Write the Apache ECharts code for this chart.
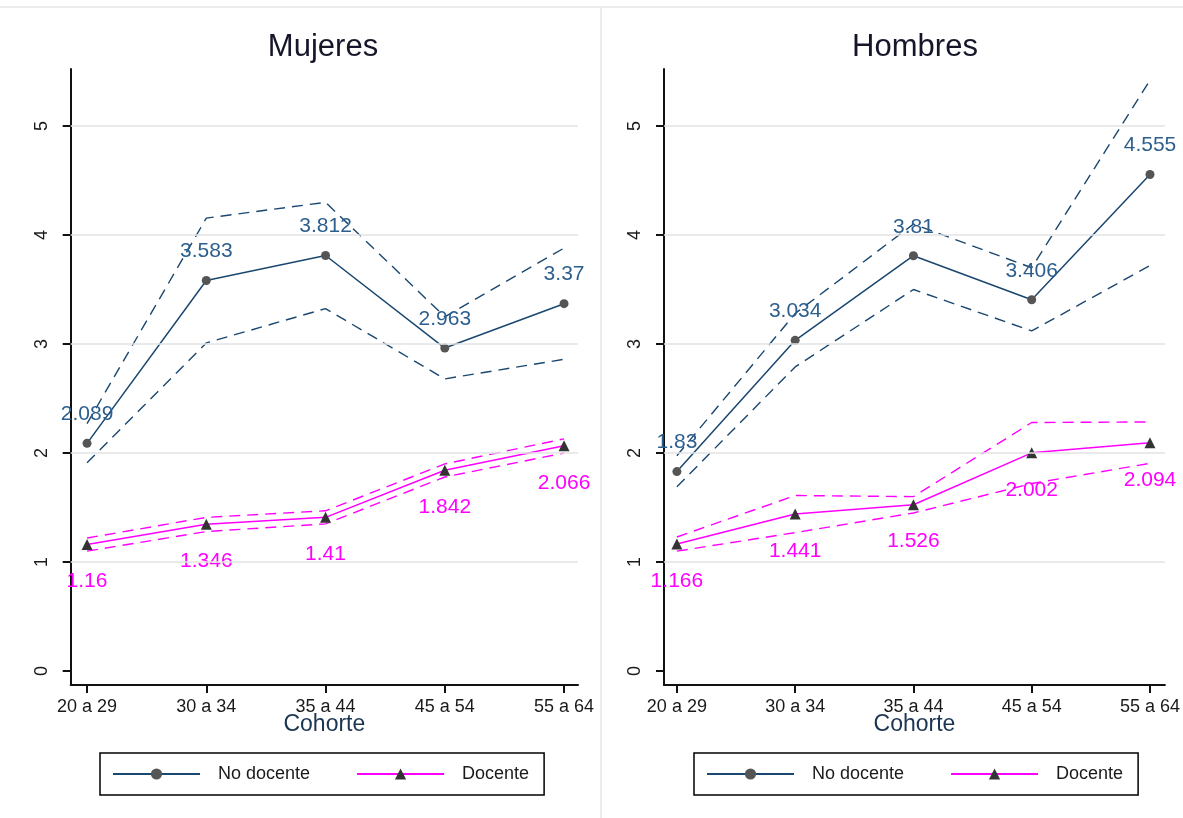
<!DOCTYPE html>
<html>
<head>
<meta charset="utf-8">
<script src="https://cdn.jsdelivr.net/npm/echarts@6/dist/echarts.min.js"></script>
<style>
  html, body { margin: 0; padding: 0; background: #ffffff; }
  #chart { width: 1183px; height: 818px; }
</style>
</head>
<body>
<div id="chart"></div>
<script>
// Cohorts on the horizontal axis
const cohortes = ['20 a 29', '30 a 34', '35 a 44', '45 a 54', '55 a 64'];
const yTicks = [0, 1, 2, 3, 4, 5];

// Mujeres: point estimates and confidence bounds
const mujNoDoc    = [2.089, 3.583, 3.812, 2.963, 3.37];
const mujNoDocSup = [2.27, 4.155, 4.30, 3.25, 3.88];
const mujNoDocInf = [1.91, 3.01, 3.325, 2.68, 2.86];
const mujDoc      = [1.16, 1.346, 1.41, 1.842, 2.066];
const mujDocSup   = [1.22, 1.41, 1.47, 1.90, 2.13];
const mujDocInf   = [1.10, 1.28, 1.35, 1.78, 2.00];

// Hombres: point estimates and confidence bounds
const homNoDoc    = [1.83, 3.034, 3.81, 3.406, 4.555];
const homNoDocSup = [1.975, 3.28, 4.10, 3.70, 5.42];
const homNoDocInf = [1.69, 2.79, 3.50, 3.12, 3.72];
const homDoc      = [1.166, 1.441, 1.526, 2.002, 2.094];
const homDocSup   = [1.23, 1.61, 1.60, 2.28, 2.285];
const homDocInf   = [1.10, 1.27, 1.45, 1.72, 1.905];

const FONT = '"Liberation Sans", Arial, Helvetica, sans-serif';
const NAVY = '#1a476f';
const MAGENTA = '#ff00ff';

const xy = arr => arr.map((v, i) => [i, v]);

const panels = [
  { title: 'Mujeres', cx: 323, grid: { left: 70.7, top: 69, width: 507.3, height: 616 },
    xMin: -0.137, xMax: 4.117, legendLeft: 100,
    noDoc: mujNoDoc, noDocSup: mujNoDocSup, noDocInf: mujNoDocInf,
    doc: mujDoc, docSup: mujDocSup, docInf: mujDocInf },
  { title: 'Hombres', cx: 915, grid: { left: 664, top: 69, width: 506, height: 616 },
    xMin: -0.109, xMax: 4.126, legendLeft: 694,
    noDoc: homNoDoc, noDocSup: homNoDocSup, noDocInf: homNoDocInf,
    doc: homDoc, docSup: homDocSup, docInf: homDocInf }
];

const grids = [], xAxes = [], yAxes = [], series = [], legends = [], graphics = [];

// light frame around the two panels
graphics.push({ type: 'line', shape: { x1: 0, y1: 7, x2: 1183, y2: 7 },
  style: { stroke: '#ececec', lineWidth: 2 }, silent: true });
graphics.push({ type: 'line', shape: { x1: 601, y1: 8, x2: 601, y2: 818 },
  style: { stroke: '#ececec', lineWidth: 2 }, silent: true });

panels.forEach((p, g) => {
  grids.push(Object.assign({ containLabel: false }, p.grid));

  xAxes.push({
    type: 'value', gridIndex: g, min: p.xMin, max: p.xMax,
    name: 'Cohorte', nameLocation: 'middle', nameGap: 28, nameMoveOverlap: false,
    nameTextStyle: { fontFamily: FONT, fontSize: 23, color: '#1c3553' },
    axisLine: { show: true, onZero: false, lineStyle: { color: '#111', width: 2 } },
    axisTick: { show: true, length: 8, customValues: [0, 1, 2, 3, 4], lineStyle: { color: '#111', width: 2 } },
    axisLabel: { show: true, customValues: [0, 1, 2, 3, 4], margin: 13, fontFamily: FONT,
      fontSize: 18, color: '#1a1a1a', formatter: v => cohortes[Math.round(v)] },
    splitLine: { show: false }
  });

  yAxes.push({
    type: 'value', gridIndex: g, min: -0.128, max: 5.523,
    axisLine: { show: true, onZero: false, lineStyle: { color: '#111', width: 2 } },
    axisTick: { show: true, length: 8, customValues: yTicks, lineStyle: { color: '#111', width: 2 } },
    axisLabel: { show: true, customValues: yTicks, rotate: 90, margin: 20, fontFamily: FONT,
      fontSize: 18, color: '#1a1a1a', formatter: v => String(Math.round(v)) },
    splitLine: { show: false }
  });

  // horizontal gridlines at the labelled values
  series.push({
    name: 'grid' + g, type: 'line', xAxisIndex: g, yAxisIndex: g, data: [],
    silent: true, z: 1,
    markLine: {
      silent: true, symbol: 'none', label: { show: false },
      lineStyle: { color: '#e3e3e3', type: 'solid', width: 1.5 },
      data: yTicks.filter(v => v > 0).map(v => ({ yAxis: v }))
    }
  });

  const ci = (name, arr, color) => ({
    name, type: 'line', xAxisIndex: g, yAxisIndex: g, data: xy(arr),
    symbol: 'none', silent: true, z: 2,
    lineStyle: { color, width: 1.4, type: [11, 7] }
  });
  series.push(ci('IC sup no docente ' + g, p.noDocSup, NAVY));
  series.push(ci('IC inf no docente ' + g, p.noDocInf, NAVY));
  series.push(ci('IC sup docente ' + g, p.docSup, MAGENTA));
  series.push(ci('IC inf docente ' + g, p.docInf, MAGENTA));

  series.push({
    name: 'No docente', type: 'line', xAxisIndex: g, yAxisIndex: g, data: xy(p.noDoc),
    symbol: 'circle', symbolSize: 9, z: 3,
    itemStyle: { color: '#555555' },
    lineStyle: { color: NAVY, width: 1.5 },
    label: { show: true, position: 'top', distance: 14, fontFamily: FONT, fontSize: 21,
      color: '#2d5f8e', formatter: d => String(d.value[1]) }
  });
  series.push({
    name: 'Docente', type: 'line', xAxisIndex: g, yAxisIndex: g, data: xy(p.doc),
    symbol: 'triangle', symbolSize: 11, z: 3,
    itemStyle: { color: '#333333' },
    lineStyle: { color: MAGENTA, width: 1.5 },
    label: { show: true, position: 'bottom', distance: 21, fontFamily: FONT, fontSize: 21,
      color: MAGENTA, formatter: d => String(d.value[1]) }
  });

  legends.push({
    data: ['No docente', 'Docente'], orient: 'horizontal',
    left: p.legendLeft, top: 753, padding: [12, 15, 12, 12],
    itemWidth: 87, itemHeight: 14, itemGap: 46, selectedMode: false,
    borderColor: '#000', borderWidth: 1.5, borderRadius: 0,
    textStyle: { fontFamily: FONT, fontSize: 18, color: '#1a1a1a', padding: [0, 0, 0, 13] }
  });

  graphics.push({
    type: 'text', x: p.cx, y: 47, silent: true,
    style: { text: p.title, fill: '#16162a', font: 'normal 31px ' + FONT,
      align: 'center', verticalAlign: 'middle' }
  });
});

const chart = echarts.init(document.getElementById('chart'), null, { renderer: 'canvas' });
chart.setOption({
  animation: false,
  backgroundColor: '#ffffff',
  textStyle: { fontFamily: FONT },
  grid: grids,
  xAxis: xAxes,
  yAxis: yAxes,
  legend: legends,
  series: series,
  graphic: graphics
});
</script>
</body>
</html>
